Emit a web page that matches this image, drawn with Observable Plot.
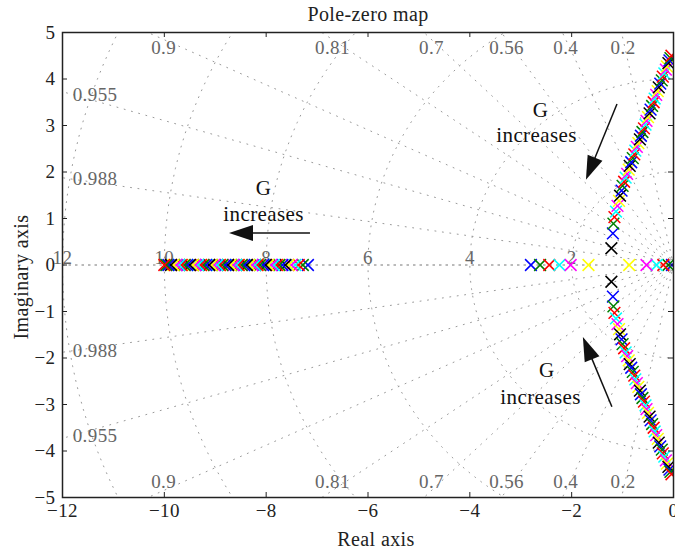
<!DOCTYPE html>
<html><head><meta charset="utf-8">
<script src="https://cdn.jsdelivr.net/npm/d3@7"></script>
<script src="https://cdn.jsdelivr.net/npm/@observablehq/plot@0.6"></script>
<style>
body{margin:0;background:#fff;}
svg, svg text{font-family:"Liberation Serif","DejaVu Serif",serif !important;letter-spacing:0.4px;}
</style></head><body><div id="chart"></div>
<script>
// ---- data ----
const colorNames = ["blue","green","red","cyan","magenta","yellow","black"];
const colorHex = ["#2b4fb8","#1d9a3c","#e8202a","#17bcc2","#b444b8","#c9c42a","#1e1e1e"];

// far-left real pole of each system
const leftPole = [-7.18,-7.28,-7.36,-7.43,-7.50,-7.56,-7.62,-7.68,-7.74,-7.79,-7.85,-7.90,-7.96,-8.01,-8.06,-8.12,-8.17,-8.22,-8.27,-8.33,-8.38,-8.43,-8.48,-8.54,-8.59,-8.64,-8.70,-8.75,-8.80,-8.86,-8.91,-8.96,-9.02,-9.07,-9.12,-9.18,-9.23,-9.28,-9.34,-9.39,-9.44,-9.50,-9.55,-9.60,-9.66,-9.71,-9.76,-9.82,-9.87,-9.92,-9.96,-10.00];
// first systems: two real poles near the origin
const realPairA = [-2.80,-2.62,-2.44,-2.24,-2.02,-1.67];
const realPairB = [-0.03,-0.10,-0.20,-0.33,-0.53,-0.87];
// remaining systems: complex pair re ± j im
const complexRe = [-1.22,-1.19,-1.18,-1.16,-1.13,-1.10,-1.07,-1.05,-1.02,-1.00,-0.97,-0.94,-0.91,-0.88,-0.86,-0.83,-0.80,-0.77,-0.75,-0.72,-0.69,-0.66,-0.64,-0.61,-0.58,-0.55,-0.53,-0.50,-0.47,-0.45,-0.42,-0.39,-0.37,-0.34,-0.31,-0.29,-0.26,-0.23,-0.21,-0.18,-0.15,-0.13,-0.10,-0.08,-0.06,-0.04];
const complexIm = [0.36,0.68,0.89,1.03,1.15,1.27,1.38,1.49,1.60,1.70,1.79,1.88,1.96,2.05,2.13,2.21,2.30,2.38,2.46,2.54,2.62,2.70,2.78,2.86,2.94,3.02,3.10,3.18,3.26,3.34,3.42,3.50,3.58,3.66,3.74,3.82,3.90,3.97,4.05,4.12,4.20,4.27,4.34,4.40,4.45,4.50];
const zeroPoints = [{re: 0, im: 0}];

const zetaValues = [0.2,0.4,0.56,0.7,0.81,0.9,0.955,0.988];
const zetaLabels = ["0.2","0.4","0.56","0.7","0.81","0.9","0.955","0.988"];
const wnValues = [2,4,6,8,10,12];
const wnLabels = ["2","4","6","8","10","12"];

const xDomain = [-12, 0];
const yDomain = [-5, 5];
const xTicks = [-12,-10,-8,-6,-4,-2,0];
const xTickLabels = ["\u221212","\u221210","\u22128","\u22126","\u22124","\u22122","0"];
const yTicks = [-5,-4,-3,-2,-1,0,1,2,3,4,5];
const yTickLabels = ["\u22125","\u22124","\u22123","\u22122","\u22121","0","1","2","3","4","5"];

const titleText = "Pole-zero map";
const xLabel = "Real axis";
const yLabel = "Imaginary axis";

const annText = ["G","increases","G","increases","G","increases"];
const annX = [-8.05,-8.05,-2.61,-2.69,-2.49,-2.61];
const annY = [1.65,1.09,3.32,2.78,-2.27,-2.85];
const arrowTailX = [-7.13,-1.10,-1.20];
const arrowTailY = [0.68,3.45,-3.06];
const arrowTipX = [-8.72,-1.71,-1.77];
const arrowTipY = [0.68,1.82,-1.56];

// ---- derived tables ----
const poles = [];
for (let k = 0; k < leftPole.length; ++k) {
  const c = colorNames[k % colorNames.length];
  poles.push({re: leftPole[k], im: 0, c});
  if (k < realPairA.length) {
    poles.push({re: realPairA[k], im: 0, c});
    poles.push({re: realPairB[k], im: 0, c});
  } else {
    const j = k - realPairA.length;
    poles.push({re: complexRe[j], im: complexIm[j], c});
    poles.push({re: complexRe[j], im: -complexIm[j], c});
  }
}
const zetaLines = [];
zetaValues.forEach((z, i) => {
  [1, -1].forEach(s => {
    [0, 30].forEach(r => zetaLines.push({key: i + "_" + s, x: -z * r, y: s * Math.sqrt(1 - z * z) * r}));
  });
});
const wnArcs = [];
wnValues.forEach(w => {
  for (let a = 0; a <= 180; a += 1.5) {
    const t = a * Math.PI / 180;
    wnArcs.push({key: w, x: -w * Math.sin(t), y: w * Math.cos(t)});
  }
});
const zetaLab = [];
zetaValues.forEach((z, i) => {
  const slope = Math.sqrt(1 - z * z) / z;
  const xTop = -4.85 / slope;
  [1, -1].forEach(s => {
    if (xTop > xDomain[0] + 1) zetaLab.push({t: zetaLabels[i], x: xTop, y: s * 4.67, anchor: "middle"});
    else zetaLab.push({t: zetaLabels[i], x: xDomain[0] + 0.2, y: s * slope * 11.8, anchor: "start"});
  });
});
const wnLab = wnValues.map((w, i) => ({t: wnLabels[i], x: -w, y: 0}));
const ann = annText.map((t, i) => ({t, x: annX[i], y: annY[i]}));

const gray = "#9a9a9a";
const labGray = "#666";
const fs = 19;
const ff = "Liberation Serif";

const plot = Plot.plot({
  width: 675, height: 549,
  marginLeft: 62, marginRight: 2, marginTop: 32, marginBottom: 52,
  x: {domain: xDomain}, y: {domain: yDomain},
  color: {domain: colorNames, range: colorHex},
  style: {fontFamily: "Liberation Serif", background: "#fff"},
  marks: [
    Plot.line(wnArcs, {x: "x", y: "y", z: "key", stroke: gray, strokeWidth: 1, strokeDasharray: "1,6.5", clip: true}),
    Plot.line(zetaLines, {x: "x", y: "y", z: "key", stroke: gray, strokeWidth: 1, strokeDasharray: "1,6.5", clip: true}),
    Plot.ruleY([0], {x1: xDomain[0], x2: xDomain[1], stroke: "#777", strokeWidth: 1, strokeDasharray: "2.5,4"}),
    Plot.text(zetaLab.filter(d => d.anchor === "middle"), {x: "x", y: "y", text: "t", fill: labGray, fontSize: fs, fontFamily: ff, textAnchor: "middle"}),
    Plot.text(zetaLab.filter(d => d.anchor === "start"), {x: "x", y: "y", text: "t", fill: labGray, fontSize: fs, fontFamily: ff, textAnchor: "start"}),
    Plot.text(wnLab, {x: "x", y: "y", text: "t", fill: labGray, fontSize: fs, fontFamily: ff, lineAnchor: "bottom", dy: -1}),
    Plot.dot(zeroPoints, {x: "re", y: "im", r: 6, stroke: "#999", strokeWidth: 1, fill: "none", clip: true}),
    Plot.dot(poles, {x: "re", y: "im", stroke: "c", symbol: "times", r: 5.4, strokeWidth: 1.5, clip: true}),
    Plot.text(ann, {x: "x", y: "y", text: "t", fill: "#111", fontSize: 21, fontFamily: ff}),
    Plot.frame({stroke: "#222", strokeWidth: 1.5}),
    // inward ticks on all four sides
    Plot.ruleX(xTicks, {x: d => d, y1: yDomain[0], y2: yDomain[0], insetTop: -5, insetBottom: 0, stroke: "#222"}),
    Plot.ruleX(xTicks, {x: d => d, y1: yDomain[1], y2: yDomain[1], insetTop: 0, insetBottom: -5, stroke: "#222"}),
    Plot.ruleY(yTicks, {y: d => d, x1: xDomain[0], x2: xDomain[0], insetLeft: 0, insetRight: -5, stroke: "#222"}),
    Plot.ruleY(yTicks, {y: d => d, x1: xDomain[1], x2: xDomain[1], insetLeft: -5, insetRight: 0, stroke: "#222"}),
    Plot.axisX(xTicks, {anchor: "bottom", tickSize: 0, tickPadding: 6, fontSize: fs, fontFamily: ff, fill: "#222", tickFormat: d => xTickLabels[xTicks.indexOf(d)], label: null}),
    Plot.axisY(yTicks, {anchor: "left", tickSize: 0, tickPadding: 7, fontSize: fs, fontFamily: ff, fill: "#222", tickFormat: d => yTickLabels[yTicks.indexOf(d)], label: null}),
    Plot.text([titleText], {frameAnchor: "top", dy: -12, lineAnchor: "bottom", fontSize: 20, fontFamily: ff, fill: "#222"}),
    Plot.text([xLabel], {frameAnchor: "bottom", dx: 8, dy: 48, lineAnchor: "bottom", fontSize: 20, fontFamily: ff, fill: "#222"}),
    Plot.text([yLabel], {frameAnchor: "left", dx: -35, dy: 12, rotate: -90, textAnchor: "middle", lineAnchor: "bottom", fontSize: 20, fontFamily: ff, fill: "#222"})
  ]
});

// filled-head arrows, positioned through the plot's scales
const sx = plot.scale("x"), sy = plot.scale("y");
const svg = d3.select(plot.tagName.toLowerCase() === "svg" ? plot : plot.querySelector("svg"));
const g = svg.append("g");
arrowTailX.forEach((_, i) => {
  const x0 = sx.apply(arrowTailX[i]), y0 = sy.apply(arrowTailY[i]);
  const x1 = sx.apply(arrowTipX[i]), y1 = sy.apply(arrowTipY[i]);
  const dx = x1 - x0, dy = y1 - y0, L = Math.hypot(dx, dy);
  const ux = dx / L, uy = dy / L, px = -uy, py = ux;
  const hl = 24, hw = 8;
  const bx = x1 - ux * hl, by = y1 - uy * hl;
  g.append("line").attr("x1", x0).attr("y1", y0).attr("x2", bx + ux * 2).attr("y2", by + uy * 2)
    .attr("stroke", "#111").attr("stroke-width", 1.5);
  g.append("path").attr("d", `M${x1},${y1}L${bx + px * hw},${by + py * hw}L${bx - px * hw},${by - py * hw}Z`)
    .attr("fill", "#111");
});
document.getElementById("chart").appendChild(plot);
</script></body></html>
